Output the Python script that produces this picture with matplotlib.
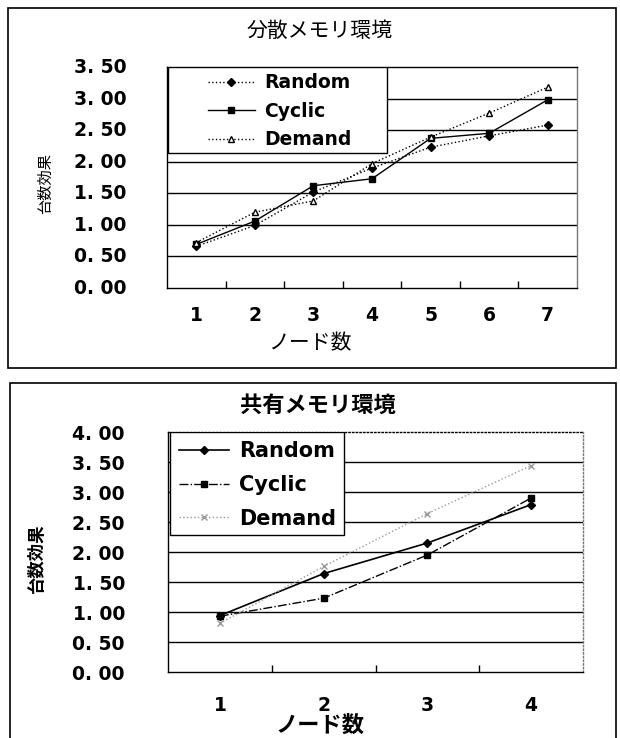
import matplotlib
matplotlib.use('Agg')
import matplotlib.pyplot as plt
from matplotlib.patches import Rectangle
from matplotlib.transforms import ScaledTranslation

jp = ['Noto Sans CJK JP', 'DejaVu Sans']

# ---- data: 分散メモリ環境 ----
dist_nodes = [1, 2, 3, 4, 5, 6, 7]
dist_random = [0.66, 0.99, 1.52, 1.90, 2.23, 2.41, 2.58]
dist_cyclic = [0.69, 1.06, 1.62, 1.73, 2.37, 2.45, 2.98]
dist_demand = [0.72, 1.20, 1.38, 1.97, 2.39, 2.77, 3.18]

# ---- data: 共有メモリ環境 ----
shared_nodes = [1, 2, 3, 4]
shared_random = [0.94, 1.64, 2.15, 2.79]
shared_cyclic = [0.93, 1.23, 1.95, 2.90]
shared_demand = [0.81, 1.76, 2.64, 3.44]

dist_yticks = [0.0, 0.5, 1.0, 1.5, 2.0, 2.5, 3.0, 3.5]
shared_yticks = [0.0, 0.5, 1.0, 1.5, 2.0, 2.5, 3.0, 3.5, 4.0]

W, H = 620, 738
fig = plt.figure(figsize=(W / 100, H / 100), dpi=100)


def px_axes(left, top, right, bottom):
    return fig.add_axes([left / W, 1 - bottom / H, (right - left) / W, (bottom - top) / H])


def style_axes(ax, nodes, yticks, ypad, xpad, ylift):
    n = len(nodes)
    ax.set_xlim(0.5, n + 0.5)
    ax.set_ylim(yticks[0], yticks[-1])
    ax.set_yticks(yticks)
    ax.set_yticklabels([('%.2f' % v).replace('.', '. ') for v in yticks],
                       fontsize=13.5, fontweight='bold', family='DejaVu Sans')
    ax.tick_params(axis='y', length=0, pad=ypad)
    if ylift:
        for lab in ax.get_yticklabels():
            lab.set_transform(lab.get_transform() + ScaledTranslation(0, ylift / 100, fig.dpi_scale_trans))
    ax.set_xticks(nodes)
    ax.set_xticklabels([str(v) for v in nodes], fontsize=13.5, fontweight='bold',
                       family='DejaVu Sans')
    ax.tick_params(axis='x', length=0, pad=xpad)
    ax.set_xticks([v + 0.5 for v in nodes[:-1]], minor=True)
    ax.tick_params(axis='x', which='minor', direction='in', length=5, width=1)
    for v in yticks[1:-1]:
        ax.axhline(v, color='black', lw=1.0, zorder=1)
    for s in ax.spines.values():
        s.set_color('black')
        s.set_linewidth(1.0)
    ax.spines['right'].set_color('#777777')


def boxed_legend(ax, box, center, size, spacing, hlen):
    # white box with black frame, legend entries centred inside it
    x0, y0, x1, y1 = box
    ax.add_patch(Rectangle((x0, y0), x1 - x0, y1 - y0, transform=ax.transAxes,
                           facecolor='white', edgecolor='black', lw=1.0, zorder=4))
    leg = ax.legend(loc='center', bbox_to_anchor=center, frameon=False,
                    prop={'family': 'DejaVu Sans', 'weight': 'bold', 'size': size},
                    handlelength=hlen, labelspacing=spacing, handletextpad=0.5,
                    borderpad=0, borderaxespad=0)
    leg.set_zorder(5)
    return leg


# ---------------- top panel ----------------
fig.patches.append(Rectangle((8 / W, 1 - 368 / H), 608 / W, 360 / H, transform=fig.transFigure,
                             fill=False, edgecolor='black', lw=1.2))
ax1 = px_axes(167, 67, 577, 288)
style_axes(ax1, dist_nodes, dist_yticks, 29, 13, 1.5)
ax1.plot(dist_nodes, dist_random, color='black', ls=':', lw=1, marker='D', ms=4, label='Random', zorder=3)
ax1.plot(dist_nodes, dist_cyclic, color='black', ls='-', lw=1, marker='s', ms=4, label='Cyclic', zorder=3)
ax1.plot(dist_nodes, dist_demand, color='black', ls=':', lw=1, marker='^', ms=5, mfc='white',
         label='Demand', zorder=3)
boxed_legend(ax1, (0.002, 0.611, 0.537, 1.0), (0.275, 0.800), 13.5, 0.5, 2.5)
fig.text(320 / W, 1 - 31 / H, '分散メモリ環境', ha='center', va='center', fontsize=15, family=jp)
fig.text(310 / W, 1 - 343 / H, 'ノード数', ha='center', va='center', fontsize=15, family=jp)
fig.text(45 / W, 1 - 183 / H, '台数効果', ha='center', va='center', fontsize=11, rotation=90,
         family=jp)

# ---------------- bottom panel ----------------
fig.patches.append(Rectangle((10 / W, 1 - 760 / H), 606 / W, 377 / H, transform=fig.transFigure,
                             fill=False, edgecolor='black', lw=1.2))
ax2 = px_axes(168, 432, 583, 672)
style_axes(ax2, shared_nodes, shared_yticks, 31, 17, 0)
ax2.spines['top'].set_linestyle(':')
ax2.spines['right'].set_linestyle(':')
ax2.plot(shared_nodes, shared_random, color='black', ls='-', lw=1.2, marker='D', ms=4, label='Random', zorder=3)
ax2.plot(shared_nodes, shared_cyclic, color='black', ls='-.', lw=1, marker='s', ms=4, label='Cyclic', zorder=3)
ax2.plot(shared_nodes, shared_demand, color='#999999', ls=':', lw=1, marker='x', ms=5, label='Demand', zorder=3)
boxed_legend(ax2, (0.005, 0.571, 0.424, 1.0), (0.215, 0.779), 15, 0.65, 2.4)
fig.text(318 / W, 1 - 405 / H, '共有メモリ環境', ha='center', va='center', fontsize=16,
         fontweight='bold', family=jp)
fig.text(320 / W, 1 - 725 / H, 'ノード数', ha='center', va='center', fontsize=16,
         fontweight='bold', family=jp)
fig.text(37 / W, 1 - 558 / H, '台数効果', ha='center', va='center', fontsize=12.5, rotation=90,
         fontweight='bold', family=jp)

fig.savefig('out.png', dpi=100)
